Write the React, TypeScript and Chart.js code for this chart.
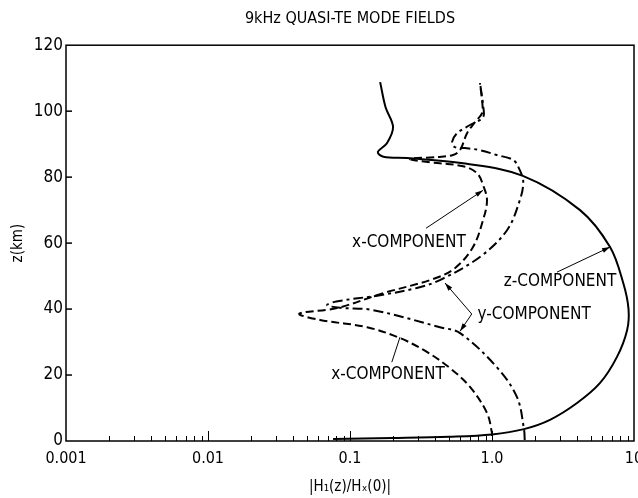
import React, { useEffect, useRef } from 'react';
import { Chart, registerables } from 'chart.js';

Chart.register(...registerables);

const FONT = "'DejaVu Sans Condensed', 'Liberation Sans Narrow', 'DejaVu Sans', sans-serif";

const TITLE = '9kHz QUASI-TE MODE FIELDS';
const X_TITLE = '|H₁(z)/Hₓ(0)|';
const Y_TITLE = 'z(km)';

const X_TICK_VALUES = [0.001, 0.01, 0.1, 1, 10];
const X_TICK_LABELS = ['0.001', '0.01', '0.1', '1.0', '10'];
const Y_TICK_VALUES = [0, 20, 40, 60, 80, 100, 120];

// z-component (solid)
const zCompH = [0.076, 0.2, 0.5, 1.0, 1.68, 2.56, 3.97, 5.77, 7.59, 8.94, 9.15, 8.4, 6.78, 4.17, 1.65, 0.625, 0.252, 0.172, 0.157, 0.182, 0.201, 0.178, 0.163];
const zCompZ = [0.6, 0.9, 1.3, 2.0, 3.6, 6.4, 11.5, 17.6, 25.5, 33.6, 40, 47.9, 58.8, 70, 80.4, 84.2, 85.8, 86.2, 87.6, 90.3, 95.2, 101.2, 108.8];

// x-component (dashed)
const xCompH = [1.0, 1.0, 0.922, 0.70, 0.506, 0.348, 0.225, 0.132, 0.0615, 0.044, 0.081, 0.171, 0.385, 0.548, 0.735, 0.865, 0.922, 0.865, 0.784, 0.625, 0.366, 0.265, 0.41, 0.531, 0.596, 0.667, 0.759, 0.851, 0.851, 0.822];
const xCompZ = [1.5, 2.4, 8.5, 16.4, 22.1, 27.0, 31.2, 34.5, 36.7, 38.6, 40.3, 44.8, 49.1, 52.4, 58.8, 67, 73, 77.6, 81.2, 83.3, 84.5, 85.5, 86.1, 86.7, 88.2, 93.3, 96.7, 99.4, 103.3, 108.5];

// y-component (dash-dot)
const yCompH = [1.70, 1.68, 1.50, 1.08, 0.596, 0.43, 0.145, 0.085, 0.069, 0.08, 0.163, 0.296, 0.43, 0.822, 1.276, 1.57, 1.66, 1.57, 1.41, 1.08, 0.82, 0.646, 0.548, 0.523, 0.567, 0.70, 0.865, 0.865, 0.837, 0.822];
const yCompZ = [0.3, 3.6, 13.3, 22.4, 32.7, 34.5, 39.7, 40.4, 41.2, 42.3, 44.2, 46.4, 48.8, 55.8, 63.9, 73, 78.5, 82.1, 85.2, 86.7, 88.2, 88.8, 89.1, 90.6, 93.3, 95.8, 98.2, 101.8, 106.4, 108.8];

// annotation labels (text anchor in data coordinates)
const ANNOT_TEXT = ['x-COMPONENT', 'x-COMPONENT', 'z-COMPONENT', 'y-COMPONENT'];
const ANNOT_H = [0.26, 0.185, 3.01, 0.79];
const ANNOT_Z = [60.3, 20, 48.2, 38.2];
const ANNOT_ALIGN = ['center', 'center', 'center', 'left'];

// leader lines: from -> to (arrow head at "to" if flagged)
const LEAD_FROM_H = [0.343, 0.197, 2.87, 0.72, 0.72];
const LEAD_FROM_Z = [64.5, 23.9, 51.2, 38.5, 38.5];
const LEAD_TO_H = [0.865, 0.225, 6.78, 0.467, 0.596];
const LEAD_TO_Z = [76, 31.5, 58.8, 47.9, 33.3];
const LEAD_HEAD = [true, false, true, true, true];

const toPts = (h: number[], z: number[]) => h.map((v, i) => ({ x: v, y: z[i] }));

const overlayPlugin = {
  id: 'overlay',
  afterDatasetsDraw(chart: any) {
    const { ctx, chartArea: a, scales } = chart;
    const xs = scales.x;
    const ys = scales.y;
    ctx.save();
    ctx.setLineDash([]);
    ctx.strokeStyle = '#000';
    ctx.fillStyle = '#000';
    ctx.lineWidth = 1.5;
    ctx.strokeRect(a.left, a.top, a.right - a.left, a.bottom - a.top);

    // x minor/major ticks (inside, from bottom)
    ctx.lineWidth = 1;
    for (let d = -3; d <= 0; d++) {
      for (let k = 1; k <= 9; k++) {
        const v = k * Math.pow(10, d);
        if (v <= 0.001 || v >= 10) continue;
        const px = Math.round(xs.getPixelForValue(v)) + 0.5;
        const len = k === 1 ? 10 : 5;
        ctx.beginPath();
        ctx.moveTo(px, a.bottom);
        ctx.lineTo(px, a.bottom - len);
        ctx.stroke();
      }
    }
    // y ticks (inside, from left)
    ctx.lineWidth = 1.5;
    Y_TICK_VALUES.forEach((v) => {
      if (v <= 0 || v >= 120) return;
      const py = ys.getPixelForValue(v);
      ctx.beginPath();
      ctx.moveTo(a.left, py);
      ctx.lineTo(a.left + 6, py);
      ctx.stroke();
    });

    // leader lines
    ctx.lineWidth = 1;
    LEAD_FROM_H.forEach((h, i) => {
      const x1 = xs.getPixelForValue(h);
      const y1 = ys.getPixelForValue(LEAD_FROM_Z[i]);
      const x2 = xs.getPixelForValue(LEAD_TO_H[i]);
      const y2 = ys.getPixelForValue(LEAD_TO_Z[i]);
      ctx.beginPath();
      ctx.moveTo(x1, y1);
      ctx.lineTo(x2, y2);
      ctx.stroke();
      if (LEAD_HEAD[i]) {
        const ang = Math.atan2(y2 - y1, x2 - x1);
        const L = 8, W = 2.5;
        ctx.beginPath();
        ctx.moveTo(x2, y2);
        ctx.lineTo(x2 - L * Math.cos(ang) + W * Math.sin(ang), y2 - L * Math.sin(ang) - W * Math.cos(ang));
        ctx.lineTo(x2 - L * Math.cos(ang) - W * Math.sin(ang), y2 - L * Math.sin(ang) + W * Math.cos(ang));
        ctx.closePath();
        ctx.fill();
      }
    });

    // labels
    ctx.font = `17px ${FONT}`;
    ctx.textBaseline = 'middle';
    ANNOT_TEXT.forEach((t, i) => {
      ctx.textAlign = ANNOT_ALIGN[i] as CanvasTextAlign;
      ctx.fillText(t, xs.getPixelForValue(ANNOT_H[i]), ys.getPixelForValue(ANNOT_Z[i]));
    });
    ctx.restore();
  },
};

export default function App() {
  const ref = useRef<HTMLCanvasElement | null>(null);
  useEffect(() => {
    if (!ref.current) return;
    const chart = new Chart(ref.current, {
      type: 'scatter',
      data: {
        datasets: [
          {
            label: 'z-component',
            data: toPts(zCompH, zCompZ),
            showLine: true,
            borderColor: '#000',
            borderWidth: 2,
            pointRadius: 0,
            tension: 0.35,
          },
          {
            label: 'x-component',
            data: toPts(xCompH, xCompZ),
            showLine: true,
            borderColor: '#000',
            borderWidth: 2,
            borderDash: [8, 4],
            pointRadius: 0,
            tension: 0.35,
          },
          {
            label: 'y-component',
            data: toPts(yCompH, yCompZ),
            showLine: true,
            borderColor: '#000',
            borderWidth: 2,
            borderDash: [10, 4, 3, 4],
            pointRadius: 0,
            tension: 0.35,
          },
        ],
      },
      options: {
        animation: false,
        responsive: false,
        events: [],
        layout: { padding: { top: 0, left: 0, right: 4, bottom: 0 } },
        plugins: {
          legend: { display: false },
          tooltip: { enabled: false },
          title: {
            display: true,
            fullSize: false,
            text: TITLE,
            color: '#000',
            font: { family: FONT, size: 16, weight: 'normal' },
            padding: { top: 9, bottom: 17 },
          },
        },
        scales: {
          x: {
            type: 'logarithmic',
            min: 0.001,
            max: 10,
            afterBuildTicks: (s: any) => {
              s.ticks = X_TICK_VALUES.map((v) => ({ value: v }));
            },
            afterFit: (s: any) => {
              s.height = 57;
              s.paddingLeft = 0;
              s.paddingRight = 0;
            },
            grid: { display: false, drawTicks: false },
            border: { display: false },
            ticks: {
              autoSkip: false,
              maxRotation: 0,
              padding: 8,
              color: '#000',
              font: { family: FONT, size: 16 },
              callback: (v: any) => {
                const i = X_TICK_VALUES.findIndex((t) => Math.abs(t - v) / t < 1e-6);
                return i >= 0 ? X_TICK_LABELS[i] : '';
              },
            },
            title: {
              display: true,
              text: X_TITLE,
              color: '#000',
              font: { family: FONT, size: 15 },
              padding: { top: 0, bottom: 2 },
            },
          },
          y: {
            type: 'linear',
            min: 0,
            max: 120,
            afterBuildTicks: (s: any) => {
              s.ticks = Y_TICK_VALUES.map((v) => ({ value: v }));
            },
            afterFit: (s: any) => {
              s.width = 66;
              s.paddingTop = 0;
              s.paddingBottom = 0;
            },
            grid: { display: false, drawTicks: false },
            border: { display: false },
            ticks: {
              padding: 3,
              color: '#000',
              font: { family: FONT, size: 17 },
            },
            title: {
              display: true,
              text: Y_TITLE,
              color: '#000',
              font: { family: FONT, size: 15 },
              padding: { top: 9, bottom: 0 },
            },
          },
        },
      },
      plugins: [overlayPlugin],
    } as any);
    return () => chart.destroy();
  }, []);
  return (
    <div style={{ position: 'absolute', left: 0, top: 0, width: 638, height: 498, background: '#fff' }}>
      <canvas ref={ref} width={638} height={498} style={{ width: 638, height: 498 }} />
    </div>
  );
}
